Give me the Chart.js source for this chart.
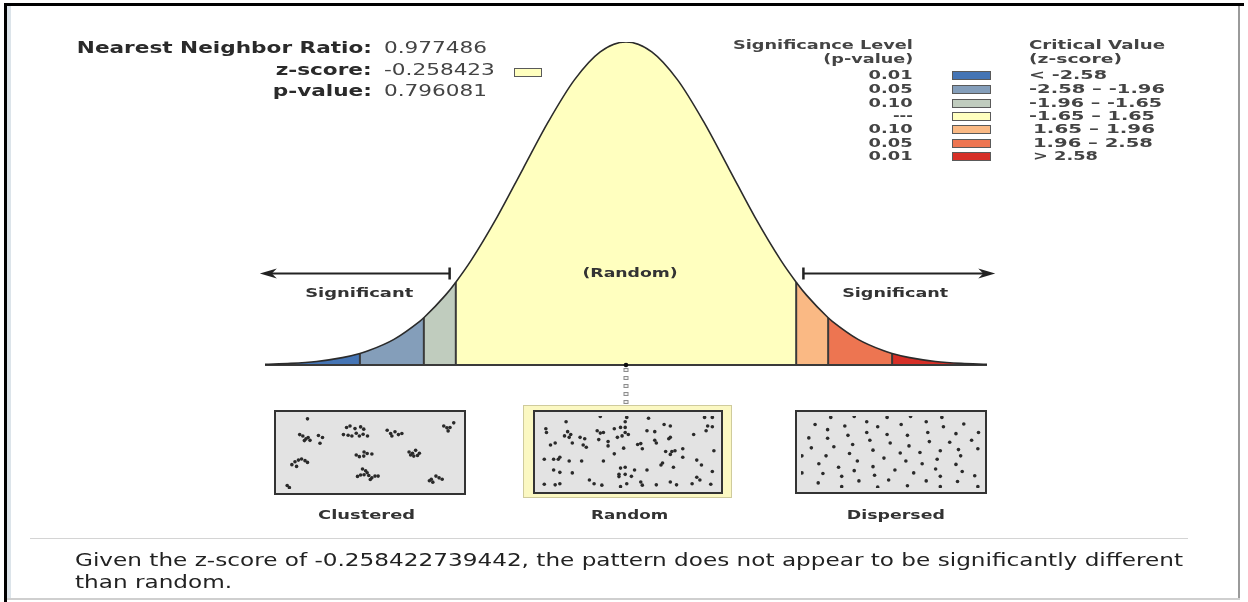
<!DOCTYPE html>
<html><head><meta charset="utf-8">
<script src="https://cdn.jsdelivr.net/npm/chart.js@4.4.1/dist/chart.umd.min.js"></script>
<style>
html,body{margin:0;padding:0;background:#fff;width:1248px;height:602px;overflow:hidden;}
#stage{position:relative;width:1248px;height:602px;font-family:"DejaVu Sans",Verdana,sans-serif;color:#333;}
.t{position:absolute;white-space:nowrap;z-index:5;}
.r{position:absolute;}
.box{position:absolute;box-sizing:border-box;border:2px solid #333;background:#e3e3e3;z-index:3;}
.box canvas{display:block;}
.sw{position:absolute;box-sizing:border-box;border:1.5px solid #5a5a5a;z-index:5;}
</style></head><body><div id="stage">
<div class="r" style="left:4px;top:3px;width:1240px;height:3px;background:#000;"></div>
<div class="r" style="left:4px;top:3px;width:3px;height:599px;background:#000;"></div>
<div class="r" style="left:7px;top:6px;width:4px;height:594px;background:#dce4ea;"></div>
<div class="r" style="left:1238px;top:6px;width:2px;height:594px;background:#9a9a9a;"></div>
<div class="r" style="left:7px;top:598px;width:1233px;height:2px;background:#cfcfcf;"></div>
<div class="r" style="left:30px;top:538px;width:1158px;height:1px;background:#d4d4d4;"></div>
<canvas id="main" width="1248" height="602" style="position:absolute;left:0;top:0;z-index:2;"></canvas>
<div class="box" style="left:274px;top:410px;width:192px;height:85px;"><canvas id="clu" width="188" height="81"></canvas></div>
<div class="r" style="left:523px;top:405px;width:209px;height:93px;box-sizing:border-box;background:#fbf8c2;border:1px solid #cfcb9c;z-index:2;"></div>
<div class="box" style="left:533px;top:410px;width:190px;height:84px;"><canvas id="ran" width="186" height="80"></canvas></div>
<div class="box" style="left:795px;top:410px;width:192px;height:84px;"><canvas id="dis" width="188" height="80"></canvas></div>
</div>
<script>
// ---------- data ----------
const statLabels = ['Nearest Neighbor Ratio:', 'z-score:', 'p-value:'];
const statValues = ['0.977486', '-0.258423', '0.796081'];
const summaryText = ['Given the z-score of -0.258422739442, the pattern does not appear to be significantly different', 'than random.'];

const zGrid   = [-3.5,-3.25,-3,-2.75,-2.5,-2.25,-2,-1.75,-1.5,-1.25,-1,-0.75,-0.5,-0.25,0,0.25,0.5,0.75,1,1.25,1.5,1.75,2,2.25,2.5,2.75,3,3.25,3.5];
const density = [0.0009,0.0020,0.0044,0.0091,0.0175,0.0317,0.0540,0.0863,0.1295,0.1826,0.2420,0.3011,0.3521,0.3867,0.3989,0.3867,0.3521,0.3011,0.2420,0.1826,0.1295,0.0863,0.0540,0.0317,0.0175,0.0091,0.0044,0.0020,0.0009];
const criticalZ = [-2.58,-1.96,-1.65,1.65,1.96,2.58];
const criticalDensity = [0.0143,0.0584,0.1023,0.1023,0.0584,0.0143];
const bandColors = ['#4575b5','#849eba','#c0ccbe','#ffffbf','#fab984','#ed7551','#d62f27'];
const pValueLabels = ['0.01','0.05','0.10','---','0.10','0.05','0.01'];
const criticalLabels = ['< -2.58','-2.58 \u2013 -1.96','-1.96 \u2013 -1.65','-1.65 \u2013 1.65','1.65 \u2013 1.96','1.96 \u2013 2.58','> 2.58'];
const markerZ = 0.0;            // position of the indicator on the curve (as drawn)
const arrowLevel = 0.114;       // height of the "Significant" arrows (density units)
const arrowLeft  = [-1.71, -3.55];
const arrowRight = [ 1.72,  3.58];
const patternNames = ['Clustered','Random','Dispersed'];

const clusteredPts = [[130,70],
 [105,125],[115,130],[125,140],[132,135],[138,145],[120,146],[165,128],[178,135],[170,155],
 [255,100],[266,95],[282,104],[300,98],[310,106],[245,125],[260,127],[272,130],[286,120],[296,130],[308,124],[322,130],
 [385,110],[396,121],[410,115],[421,125],[432,121],[400,130],
 [566,95],[576,101],[586,100],[598,84],[580,112],
 [286,196],[296,202],[311,186],[321,191],[336,193],[310,200],
 [455,186],[466,190],[476,180],[488,190],[470,200],[482,198],[460,196],
 [80,230],[90,220],[101,214],[111,210],[122,216],[130,222],[95,236],
 [306,245],[316,251],[300,266],[290,271],[311,265],[326,268],[336,276],[346,270],[356,270],[331,282],[321,258],
 [520,286],[531,291],[541,270],[551,276],[561,281],[526,281],
 [65,303],[72,310]];
const randomPts = [[155,80],[265,62],[350,65],[345,80],[420,68],[600,65],[625,65],
 [90,105],[92,118],[160,115],[170,125],[255,112],[265,120],[275,118],[310,105],[330,100],[345,100],[345,118],[355,125],[415,112],[440,115],[470,90],[490,95],[610,95],[625,98],[605,112],
 [150,130],[165,135],[200,135],[215,140],[260,143],[290,150],[320,135],[335,130],[440,145],[485,140],[490,135],[565,125],
 [105,162],[120,155],[175,155],[210,162],[220,170],[290,165],[385,160],[395,157],[445,155],[400,175],[340,173],
 [475,185],[495,185],[505,182],[490,195],[530,175],[630,182],
 [85,212],[115,212],[130,212],[135,205],[165,218],[205,218],[275,218],[310,193],
 [460,232],[465,225],[500,240],[530,205],[575,215],[590,232],
 [115,250],[135,258],[175,260],[330,243],[345,240],[375,250],[415,250],[625,255],
 [325,265],[345,265],[325,273],[365,272],
 [230,285],[245,298],[270,303],[350,298],[395,292],[400,303],[490,292],[510,302],[575,275],[585,285],[560,298],[620,300],
 [85,300],[120,302],[135,298],[330,308],[445,302]];
const dispersedPts = [[140,65],[215,62],[320,65],[395,62],[495,65],
 [90,90],[185,95],[255,80],[290,98],[365,90],[445,80],[500,98],[565,88],
 [130,108],[195,128],[255,118],[320,125],[385,128],[450,118],[540,122],[612,118],
 [70,137],[130,138],[265,145],[330,155],[455,150],[520,152],[590,145],
 [78,172],[150,168],[210,160],[275,180],[390,165],[425,188],[490,182],[548,178],[610,175],
 [125,200],[200,192],[310,208],[362,190],[480,212],[555,200],[48,200],
 [102,228],[225,218],[380,218],[432,228],[540,230],
 [165,240],[275,238],[345,250],[475,246],[560,255],[48,260],
 [115,262],[175,272],[215,252],[280,268],[405,260],[490,272],[600,270],
 [100,295],[230,288],[325,285],[445,288],[545,290],
 [175,308],[290,310],[385,305],[490,308],[610,308]];

// ---------- text ----------
const stage = document.getElementById('stage');
const S = 1.44; // horizontal stretch of the reference picture
function place(str, x, y, anchor, size, bold, opts) {
  opts = opts || {};
  const d = document.createElement('div');
  d.className = 't';
  d.textContent = str;
  d.style.fontSize = size + 'px';
  d.style.lineHeight = (size * 1.17) + 'px';
  d.style.fontWeight = bold ? 'bold' : 'normal';
  d.style.color = opts.color || '#333';
  if (opts.family) d.style.fontFamily = opts.family;
  stage.appendChild(d);
  const nat = d.getBoundingClientRect().width;
  const sc = opts.w ? opts.w / nat : (opts.sc || S);
  d.style.top = (y - 0.6 * size) + 'px';
  if (anchor === 'left') { d.style.left = x + 'px'; d.style.transformOrigin = 'left center'; }
  else if (anchor === 'right') { d.style.left = (x - nat) + 'px'; d.style.transformOrigin = 'right center'; }
  else { d.style.left = (x - nat / 2) + 'px'; d.style.transformOrigin = 'center center'; }
  d.style.transform = 'scaleX(' + sc + ')';
  return sc;
}
const statY = [49, 71, 92];
statLabels.forEach((s, i) => place(s, 372, statY[i], 'right', 15, true, {color:'#2a2a2a'}));
statValues.forEach((s, i) => place(s, 384, statY[i], 'left', 15, false, {color:'#444'}));
(function(){ const sw = document.createElement('div'); sw.className='sw';
  sw.style.cssText += 'left:514px;top:68px;width:28px;height:9px;background:' + bandColors[3] + ';';
  stage.appendChild(sw); })();

place('Significance Level', 913, 45, 'right', 12, true, {w:180, color:'#444'});
place('(p-value)', 913, 59, 'right', 12, true, {w:90, color:'#444'});
place('Critical Value', 1029, 45, 'left', 12, true, {w:136, color:'#444'});
place('(z-score)', 1029, 59, 'left', 12, true, {w:93, color:'#444'});
const rowY = [75, 89, 103, 116, 129, 143, 156];
const critW = [78, 136, 133, 126, 122, 120, 65];
const critX = [1029, 1029, 1029, 1029, 1033, 1033, 1033];
pValueLabels.forEach((s, i) => place(s, 913, rowY[i], 'right', 12, true, {color:'#444', w: s === '---' ? 20 : 44}));
criticalLabels.forEach((s, i) => {
  place(s, critX[i], rowY[i], 'left', 12, true, {color:'#444', w: critW[i]});
  const sw = document.createElement('div'); sw.className = 'sw';
  sw.style.cssText += 'left:952px;top:' + (rowY[i] - 4) + 'px;width:39px;height:9px;background:' + bandColors[i] + ';';
  stage.appendChild(sw);
});
place('(Random)', 630, 273, 'center', 12, true, {color:'#333'});
place('Significant', 359, 293, 'center', 12, true, {color:'#333', w:108});
place('Significant', 895, 293, 'center', 12, true, {color:'#333', w:106});
const patX = [367, 630, 896], patW = [97, 77, 98];
patternNames.forEach((s, i) => place(s, patX[i], 515, 'center', 12, true, {color:'#333', w: patW[i]}));
const sc0 = place(summaryText[0], 75, 561, 'left', 17, false, {color:'#222', w:1108});
place(summaryText[1], 75, 583, 'left', 17, false, {color:'#222', sc: sc0});

// ---------- main chart ----------
const curvePts = zGrid.map((z, i) => ({x: z, y: density[i]}))
  .concat(criticalZ.map((z, i) => ({x: z, y: criticalDensity[i]})))
  .sort((a, b) => a.x - b.x);
const edges = [zGrid[0]].concat(criticalZ, [zGrid[zGrid.length - 1]]);
const lineBase = {showLine: true, pointRadius: 0, cubicInterpolationMode: 'monotone', fill: false};
const datasets = [];
datasets.push(Object.assign({}, lineBase, {data: [{x: markerZ, y: 0}], showLine: false, pointRadius: 2.3, pointBackgroundColor: '#111', pointBorderWidth: 0, clip: false}));
datasets.push(Object.assign({}, lineBase, {data: curvePts, borderColor: '#2b2b2b', borderWidth: 1.6}));
datasets.push(Object.assign({}, lineBase, {data: [{x: zGrid[0], y: 0}, {x: zGrid[zGrid.length - 1], y: 0}], borderColor: '#3a3a3a', borderWidth: 2, clip: false}));
criticalZ.forEach((z, i) => datasets.push(Object.assign({}, lineBase, {data: [{x: z, y: 0}, {x: z, y: criticalDensity[i]}], borderColor: '#3a3a3a', borderWidth: 2})));
for (let b = 0; b < bandColors.length; b++) {
  const lo = edges[b], hi = edges[b + 1];
  datasets.push(Object.assign({}, lineBase, {data: curvePts.filter(p => p.x >= lo - 1e-9 && p.x <= hi + 1e-9),
    borderWidth: 0, borderColor: 'rgba(0,0,0,0)', backgroundColor: bandColors[b], fill: 'origin'}));
}
const decor = {
  id: 'decor',
  afterDatasetsDraw(chart) {
    const {ctx, scales: {x, y}} = chart;
    ctx.save();
    const yA = Math.round(y.getPixelForValue(arrowLevel)) + 0.5;
    [arrowLeft, arrowRight].forEach(([from, to]) => {
      const x0 = x.getPixelForValue(from), x1 = x.getPixelForValue(to);
      const dir = Math.sign(x1 - x0);
      ctx.strokeStyle = '#222'; ctx.fillStyle = '#222'; ctx.lineWidth = 2;
      ctx.beginPath(); ctx.moveTo(x0, yA); ctx.lineTo(x1 - dir * 10, yA); ctx.stroke();
      ctx.lineWidth = 2.5; ctx.beginPath(); ctx.moveTo(x0, yA - 6); ctx.lineTo(x0, yA + 6); ctx.stroke();
      ctx.beginPath(); ctx.moveTo(x1, yA); ctx.lineTo(x1 - dir * 17, yA - 5); ctx.lineTo(x1 - dir * 12, yA);
      ctx.lineTo(x1 - dir * 17, yA + 5); ctx.closePath(); ctx.fill();
    });
    const xm = x.getPixelForValue(markerZ), yb = y.getPixelForValue(0);
    ctx.lineWidth = 1; ctx.strokeStyle = '#8c8c8c'; ctx.fillStyle = '#f2f2f2';
    for (let i = 0; i < 5; i++) {
      const cy = yb + 5 + i * 8;
      ctx.fillRect(xm - 2, cy - 1.5, 4, 3); ctx.strokeRect(xm - 2, cy - 1.5, 4, 3);
    }
    ctx.restore();
  }
};
new Chart(document.getElementById('main'), {
  type: 'scatter',
  data: {datasets},
  options: {
    responsive: false, animation: false, events: [],
    layout: {padding: {left: 265, right: 261, top: 42, bottom: 237}},
    plugins: {legend: {display: false}, tooltip: {enabled: false}},
    scales: {x: {type: 'linear', display: false, min: -3.5, max: 3.5},
             y: {type: 'linear', display: false, min: 0, max: 0.3989}}
  },
  plugins: [decor]
});

// ---------- pattern boxes ----------
function patternChart(id, pts, frame) {
  new Chart(document.getElementById(id), {
    type: 'scatter',
    data: {datasets: [{data: pts.map(p => ({x: p[0], y: p[1]})), pointRadius: 1.8, pointBackgroundColor: '#2a2a2a', pointBorderWidth: 0}]},
    options: {responsive: false, animation: false, events: [],
      layout: {padding: 0},
      plugins: {legend: {display: false}, tooltip: {enabled: false}},
      scales: {x: {display: false, min: frame[0], max: frame[1]}, y: {display: false, min: frame[2], max: frame[3], reverse: true}}}
  });
}
patternChart('clu', clusteredPts, [42, 618, 60, 315]);
patternChart('ran', randomPts, [68, 640, 60, 313]);
patternChart('dis', dispersedPts, [45, 620, 60, 313]);
</script>
</body></html>
